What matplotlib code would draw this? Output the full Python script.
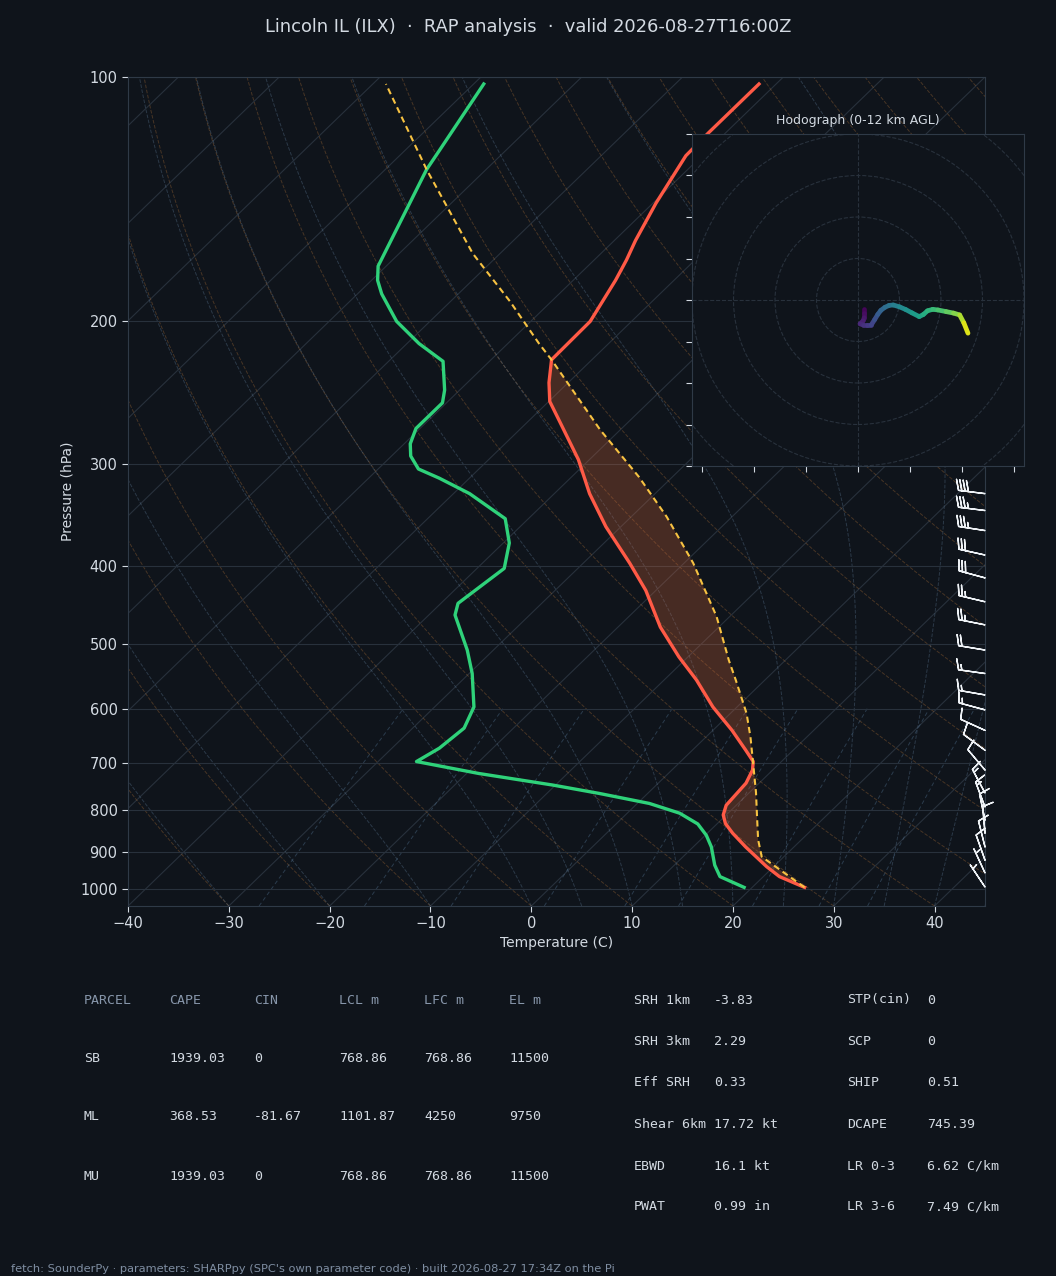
import numpy as np
import matplotlib
matplotlib.use("Agg")
import matplotlib.pyplot as plt
from matplotlib.transforms import Affine2D, blended_transform_factory
from matplotlib.collections import LineCollection
from matplotlib.patches import Circle
from matplotlib.ticker import MultipleLocator, NullLocator

# --- sounding ---
temp_p = [996, 966, 939, 888, 854, 831, 811, 789, 741, 714, 697, 675, 638, 597, 553, 518,
          476, 429, 397, 358, 326, 296, 265, 251, 238, 223, 200, 178, 168, 159, 143, 125, 117, 102]
temp_c = [25.2, 21.6, 19.3, 15.2, 12.5, 10.8, 9.7, 9.0, 8.7, 8.0, 7.2, 5.3, 1.9, -2.4, -6.8, -10.9,
          -15.8, -21.0, -25.4, -31.5, -36.5, -41.1, -47.0, -49.9, -51.9, -54.0, -54.1, -55.8, -56.8,
          -57.9, -59.7, -61.6, -61.7, -61.7]

dwpt_p = [996, 966, 935, 888, 859, 832, 807, 785, 763, 745, 721, 697, 671, 634, 597, 543, 508,
          460, 445, 403, 375, 350, 326, 312, 304, 293, 283, 271, 252, 243, 224, 213, 200, 185,
          178, 171, 130, 123, 102]
dwpt_c = [19.2, 15.7, 14.0, 11.8, 10.1, 8.1, 5.2, 1.2, -4.8, -10.3, -18.8, -26.2, -25.3, -24.9,
          -26.1, -29.7, -32.6, -37.4, -38.3, -37.3, -39.4, -42.3, -48.4, -53.0, -56.0, -58.1,
          -59.4, -60.4, -60.4, -61.5, -64.6, -68.8, -73.3, -77.6, -79.4, -80.8, -85.9, -86.6, -89.0]

parcel_p = [996, 966, 913, 870, 823, 760, 701, 650, 608, 553, 523, 462, 397, 348, 311, 272,
            223, 213, 189, 165, 130, 102]
parcel_c = [25.2, 22.6, 17.8, 15.7, 13.6, 10.6, 7.4, 4.4, 1.6, -2.9, -5.6, -11.3, -19.1, -26.5,
            -33.3, -42.0, -54.0, -56.9, -64.1, -72.7, -85.9, -98.7]

# wind profile (kt)
wind_p = [995, 956, 922, 888, 854, 823, 793, 762, 714, 675, 638, 602, 577, 543, 508, 473, 443,
          414, 388, 362, 342, 326, 300, 275, 250, 225, 200]
wind_hgt = [0.0, 0.3, 0.6, 0.9, 1.25, 1.55, 1.85, 2.2, 2.75, 3.2, 3.65, 4.1, 4.45, 4.9, 5.4, 5.9,
            6.35, 6.8, 7.2, 7.65, 8.0, 8.3, 8.8, 9.4, 10.1, 10.9, 11.8]
wind_u = [3.0, 3.0, 3.0, 2.5, 1.0, 2.5, 4.5, 6.4, 8.0, 9.5, 11.0, 13.0, 15.0, 17.0, 20.0, 23.0,
          26.0, 29.5, 31.5, 33.5, 36.0, 38.5, 42.5, 46.0, 49.0, 51.0, 53.0]
wind_v = [-4.5, -6.5, -8.5, -10.0, -11.5, -12.0, -12.0, -12.0, -9.5, -7.0, -5.0, -3.5, -2.6, -2.4,
          -3.3, -4.6, -6.2, -8.0, -7.0, -5.2, -4.5, -4.8, -5.6, -6.3, -7.2, -11.0, -16.0]

# --- parameter tables ---
parcel_cols = ["PARCEL", "CAPE", "CIN", "LCL m", "LFC m", "EL m"]
parcel_rows = [
    ["SB", "1939.03", "0", "768.86", "768.86", "11500"],
    ["ML", "368.53", "-81.67", "1101.87", "4250", "9750"],
    ["MU", "1939.03", "0", "768.86", "768.86", "11500"],
]
kin_names = ["SRH 1km", "SRH 3km", "Eff SRH", "Shear 6km", "EBWD", "PWAT"]
kin_vals = ["-3.83", "2.29", "0.33", "17.72 kt", "16.1 kt", "0.99 in"]
comp_names = ["STP(cin)", "SCP", "SHIP", "DCAPE", "LR 0-3", "LR 3-6"]
comp_vals = ["0", "0", "0.51", "745.39", "6.62 C/km", "7.49 C/km"]

BG = "#0f141b"
GRID = "#28313c"
SPINE = "#2f3a47"
TXT = "#d3dae2"
DIM = "#8796aa"

fig = plt.figure(figsize=(10.56, 12.76), dpi=100, facecolor=BG)
W, H = 1056, 1276

fig.text(0.5, 1 - 27 / H, "Lincoln IL (ILX)  \u00b7  RAP analysis  \u00b7  valid 2026-08-27T16:00Z",
         ha="center", va="center", fontsize=12.9, color=TXT)

ax = fig.add_axes([128 / W, 1 - 906 / H, 857 / W, 829 / H])
ax.set_facecolor(BG)
ax.set_yscale("log")
ax.set_xlim(-40, 45)
ax.set_ylim(1050, 100)

# skew-T transform: skew in axes space, like metpy's SkewT(rotation=45)
skew = ax.transScale + ax.transLimits + Affine2D().skew_deg(45, 0) + ax.transAxes

# background lines
pp = np.linspace(1050, 100, 200)
for t in range(-160, 60, 10):
    ax.plot([t, t], [1050, 100], transform=skew, color=GRID, lw=0.8, zorder=1)

for t0 in np.arange(-40, 246, 10):
    tt = (t0 + 273.15) * (pp / 1050.0) ** 0.2857 - 273.15
    ax.plot(tt, pp, transform=skew, color="#c8803c", alpha=0.3, lw=0.7, ls="--", zorder=1)


def moist_adiabat(t0c, p):
    Rd, Cp, Lv, eps = 287.04, 1005.7, 2.501e6, 0.622

    def slope(T, pr):
        tc = T - 273.15
        es = 6.112 * np.exp(17.67 * tc / (tc + 243.5))
        rs = eps * es / (pr - es)
        return (Rd * T + Lv * rs) / (Cp + Lv ** 2 * rs * eps / (Rd * T ** 2))

    T = np.empty_like(p)
    T[0] = t0c + 273.15
    lnp = np.log(p)
    for i in range(1, len(p)):
        h = lnp[i] - lnp[i - 1]
        k1 = slope(T[i - 1], p[i - 1])
        k2 = slope(T[i - 1] + h * k1, p[i])
        T[i] = T[i - 1] + 0.5 * h * (k1 + k2)
    return T - 273.15


for t0 in list(range(-40, 0, 10)) + list(range(0, 46, 5)):
    ax.plot(moist_adiabat(t0, pp), pp, transform=skew, color="#6d8fb0", alpha=0.3, lw=0.7,
            ls="--", zorder=1)

pm = np.linspace(1050, 600, 50)
for w in [0.0004, 0.001, 0.002, 0.004, 0.007, 0.01, 0.016, 0.024, 0.032]:
    e = pm * w / (0.622 + w)
    lg = np.log(e / 6.112)
    td = 243.5 * lg / (17.67 - lg)
    ax.plot(td, pm, transform=skew, color="#5f86aa", alpha=0.35, lw=0.7, ls=(0, (4, 3)), zorder=1)

# CAPE shading
pg = np.exp(np.linspace(np.log(996), np.log(223), 300))
ti = np.interp(-np.log(pg), -np.log(temp_p), temp_c)
pi = np.interp(-np.log(pg), -np.log(parcel_p), parcel_c)
ax.fill_betweenx(pg, ti, pi, where=pi >= ti, interpolate=True, transform=skew,
                 color="#d9683b", alpha=0.28, lw=0, zorder=2)

ax.plot(temp_c, temp_p, transform=skew, color="#ff5a46", lw=2.4, zorder=4)
ax.plot(dwpt_c, dwpt_p, transform=skew, color="#2fd27a", lw=2.4, zorder=4)
ax.plot(parcel_c, parcel_p, transform=skew, color="#f7c242", lw=1.5, ls=(0, (3, 2)), zorder=5)

# wind barbs on the right edge
bt = blended_transform_factory(ax.transAxes, ax.transData)
ax.barbs(np.ones(len(wind_p)), wind_p, wind_u, wind_v, transform=bt, clip_on=False,
         length=6.2, color="#eef2f6", lw=1.0, zorder=6)

ax.set_xlim(-40, 45)
ax.set_ylim(1050, 100)
ax.set_yticks(range(100, 1001, 100))
ax.set_yticklabels([str(v) for v in range(100, 1001, 100)])
ax.yaxis.set_minor_locator(NullLocator())
ax.set_xticks(range(-40, 41, 10))
ax.grid(axis="y", color=GRID, lw=0.8)
ax.grid(axis="x", visible=False)
ax.tick_params(colors=TXT, labelsize=10.5, length=4, width=0.8)
for s in ax.spines.values():
    s.set_color(SPINE)
    s.set_linewidth(0.8)
ax.set_xlabel("Temperature (C)", color=TXT, fontsize=10, labelpad=3)
ax.set_ylabel("Pressure (hPa)", color=TXT, fontsize=10, labelpad=4)

# hodograph inset
hax = fig.add_axes([692 / W, 1 - 466 / H, 332 / W, 332 / H])
hax.set_facecolor(BG)
hax.set_xlim(-80, 80)
hax.set_ylim(-80, 80)
for r in range(20, 121, 20):
    hax.add_patch(Circle((0, 0), r, fill=False, ls="--", ec=GRID, lw=0.8))
hax.axhline(0, color=GRID, ls="--", lw=0.8)
hax.axvline(0, color=GRID, ls="--", lw=0.8)
hu = np.array(wind_u)
hv = np.array(wind_v)
hh = np.array(wind_hgt)
segs = [[(hu[i], hv[i]), (hu[i + 1], hv[i + 1])] for i in range(len(hu) - 1)]
lc = LineCollection(segs, cmap="viridis", norm=plt.Normalize(0, 12), linewidths=3.4,
                    capstyle="round")
lc.set_array(0.5 * (hh[:-1] + hh[1:]))
hax.add_collection(lc)
hax.xaxis.set_major_locator(MultipleLocator(25))
hax.yaxis.set_major_locator(MultipleLocator(20))
hax.tick_params(labelbottom=False, labelleft=False, colors=TXT, length=4, width=0.8)
for s in hax.spines.values():
    s.set_color(SPINE)
    s.set_linewidth(0.8)
hax.set_title("Hodograph (0-12 km AGL)", fontsize=9, color=TXT, pad=7)

# tables
mono = "DejaVu Sans Mono"
col_x = [84, 169, 254, 339, 424, 509]
for x, name in zip(col_x, parcel_cols):
    fig.text(x / W, 1 - 1000 / H, name, family=mono, fontsize=9.5, color=DIM, va="center")
for row, y in zip(parcel_rows, [1058, 1117, 1176]):
    for x, val in zip(col_x, row):
        fig.text(x / W, 1 - y / H, val, family=mono, fontsize=9.5, color=TXT, va="center")

row_y = [1000, 1041.5, 1083, 1124.5, 1166, 1207]
for y, n, v in zip(row_y, kin_names, kin_vals):
    fig.text(634 / W, 1 - y / H, n, family=mono, fontsize=9.5, color=TXT, va="center")
    fig.text(714 / W, 1 - y / H, v, family=mono, fontsize=9.5, color=TXT, va="center")
for y, n, v in zip(row_y, comp_names, comp_vals):
    fig.text(847 / W, 1 - y / H, n, family=mono, fontsize=9.5, color=TXT, va="center")
    fig.text(927 / W, 1 - y / H, v, family=mono, fontsize=9.5, color=TXT, va="center")

fig.text(11 / W, 1 - 1269 / H,
         "fetch: SounderPy \u00b7 parameters: SHARPpy (SPC's own parameter code) \u00b7 built 2026-08-27 17:34Z on the Pi",
         fontsize=8.2, color="#7f8ea2", va="center")

fig.savefig("out.png", dpi=100, facecolor=BG)
